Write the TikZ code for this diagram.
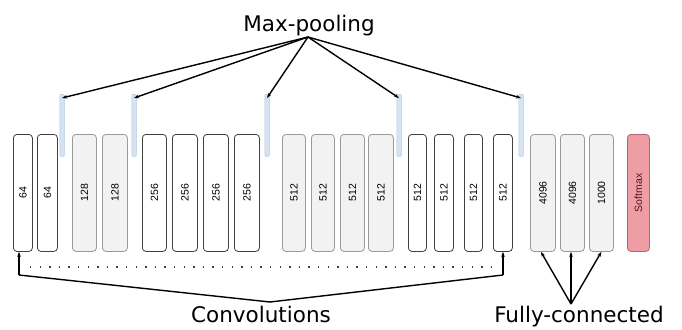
\documentclass[tikz,border=0pt]{standalone}
\usepackage{fontspec}
\setmainfont{DejaVu Sans}
\newfontfamily\numfont{Liberation Sans}
\usetikzlibrary{arrows.meta}
\definecolor{greyfill}{HTML}{F2F2F2}
\definecolor{greyline}{HTML}{9A9A9A}
\definecolor{darkline}{HTML}{404040}
\definecolor{poolfill}{HTML}{D5E3F3}
\definecolor{poolline}{HTML}{B4C8E0}
\definecolor{softfill}{HTML}{EE9DA5}
\definecolor{softline}{HTML}{B06670}
\definecolor{softtext}{HTML}{5A1520}
\tikzset{
  layer/.style={draw=darkline, fill=white, line width=0.8pt, rounded corners=3.5pt,
    minimum height=117pt, inner sep=0pt, anchor=north west},
  greylayer/.style={layer, draw=greyline, fill=greyfill},
  softlayer/.style={layer, draw=softline, fill=softfill},
  pool/.style={draw=poolline, fill=poolfill, line width=0.5pt, rounded corners=1pt,
    minimum width=4.5pt, minimum height=62pt, inner sep=0pt, anchor=north},
  lbl/.style={font=\numfont\fontsize{10.5}{12}\selectfont, rotate=90},
  arr/.style={-{Stealth[length=5pt,width=3.5pt]}, line width=1.4pt, black},
  big/.style={font=\fontsize{21.5}{26}\selectfont, inner sep=0pt}
}
\begin{document}
\begin{tikzpicture}[x=1pt,y=-1pt]
\useasboundingbox (0,0) rectangle (682,329);
% convolution and dense layers: name / left / right / style / label
\foreach \n/\l/\r/\s/\t in {
  c1/13/32/layer/64, c2/37/57/layer/64,
  c3/72/96/greylayer/128, c4/102/127/greylayer/128,
  c5/142/166/layer/256, c6/172/197/layer/256, c7/203/228/layer/256, c8/234/259/layer/256,
  c9/282/305/greylayer/512, c10/311/334/greylayer/512, c11/340/364/greylayer/512, c12/368/393/greylayer/512,
  c13/408/426/layer/512, c14/434/453/layer/512, c15/464/482/layer/512, c16/493/512/layer/512,
  f1/530/555/greylayer/4096, f2/560/584/greylayer/4096, f3/589/613/greylayer/1000}
{
  \node[\s, minimum width={(\r-\l)*1pt}] (\n) at (\l,134) {};
  \node[lbl] at (\n.center) {\t};
}
\node[softlayer, minimum width=22pt] (sm) at (627,134) {};
\node[lbl, font=\numfont\fontsize{10.5}{12}\selectfont, text=softtext] at (sm.center) {Softmax};

% pooling bars
\foreach \n/\x in {p1/62, p2/134, p3/267, p4/399, p5/521}
  \node[pool] (\n) at (\x,94) {};

% labels
\node[big, anchor=base] (mp) at (309,32) {Max-pooling};
\node[big, anchor=base] (cv) at (261,322) {Convolutions};
\node[big, anchor=base] (fc) at (579,322) {Fully-connected};

% max-pooling arrows
\coordinate (mpo) at (308,37);
\foreach \n in {p1,p2,p3,p4,p5}
  \draw[arr] (mpo) -- ([yshift=-4pt]\n.north);

% convolution bracket
\coordinate (cvo) at (270,302);
\coordinate (cl) at (19,275);
\coordinate (cr) at (503,275);
\draw[line width=1.4pt] (cl) -- (cvo) -- (cr);
\draw[arr] (cl) -- (c1.south -| cl);
\draw[arr] (cr) -- (c16.south -| cr);
\draw[line width=1.3pt, darkline, dash pattern=on 1.3pt off 8.3pt] (30,267) -- (491,267);

% fully-connected arrows
\coordinate (fco) at (571,304);
\draw[arr] (fco) -- ([xshift=-2pt]f1.south);
\draw[arr] (fco) -- (f2.south -| fco);
\draw[arr] (fco) -- (f3.south);
\end{tikzpicture}
\end{document}
